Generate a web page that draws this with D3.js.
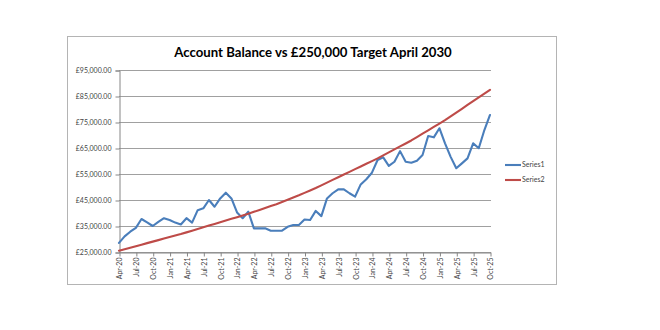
<!DOCTYPE html>
<html>
<head>
<meta charset="utf-8">
<script src="https://cdn.jsdelivr.net/npm/d3@7/dist/d3.min.js"></script>
<style>
  html, body { margin: 0; padding: 0; background: #fff; }
  svg { display: block; }
  text { font-family: Lato, "Open Sans", "Liberation Sans", sans-serif; }
</style>
</head>
<body>
<svg id="chart" width="660" height="330"></svg>
<script>
// Monthly periods, April 2020 to October 2025
const months = [
  "Apr-20","May-20","Jun-20","Jul-20","Aug-20","Sep-20","Oct-20","Nov-20","Dec-20",
  "Jan-21","Feb-21","Mar-21","Apr-21","May-21","Jun-21","Jul-21","Aug-21","Sep-21","Oct-21","Nov-21","Dec-21",
  "Jan-22","Feb-22","Mar-22","Apr-22","May-22","Jun-22","Jul-22","Aug-22","Sep-22","Oct-22","Nov-22","Dec-22",
  "Jan-23","Feb-23","Mar-23","Apr-23","May-23","Jun-23","Jul-23","Aug-23","Sep-23","Oct-23","Nov-23","Dec-23",
  "Jan-24","Feb-24","Mar-24","Apr-24","May-24","Jun-24","Jul-24","Aug-24","Sep-24","Oct-24","Nov-24","Dec-24",
  "Jan-25","Feb-25","Mar-25","Apr-25","May-25","Jun-25","Jul-25","Aug-25","Sep-25","Oct-25"
];

// Series1: actual account balance
const series1 = [
  28500, 31000, 32800, 34300, 37700, 36400, 35000, 36600, 38000,
  37300, 36300, 35600, 38000, 36300, 41100, 41800, 45000, 42400, 45600, 47800, 45600,
  40200, 38000, 40500, 34100, 34100, 34100, 33200, 33200, 33200, 34700, 35400, 35400,
  37500, 37300, 40800, 38800, 45600, 47600, 49100, 49100, 47600, 46300, 51000, 53000,
  55500, 60400, 61400, 58100, 59700, 63800, 59700, 59300, 60100, 62300, 69600, 69100,
  72600, 66800, 61600, 57200, 59100, 61000, 66800, 64900, 71900, 77700
];

// Series2: target path towards £250,000
const series2 = [
  25500, 26080, 26660, 27250, 27830, 28410, 28990, 29570, 30160,
  30740, 31320, 31900, 32550, 33200, 33850, 34500, 35150, 35800, 36450, 37100, 37750,
  38400, 39050, 39700, 40440, 41180, 41920, 42660, 43400, 44250, 45100, 45950, 46800,
  47730, 48670, 49600, 50640, 51680, 52720, 53760, 54800, 55830, 56870, 57900, 58930,
  59970, 61000, 62150, 63300, 64450, 65600, 66750, 67900, 69200, 70500, 71800, 73100,
  74400, 75700, 77160, 78630, 80090, 81550, 83010, 84480, 85940, 87400
];

const yTicks = [25000, 35000, 45000, 55000, 65000, 75000, 85000, 95000];
const seriesNames = ["Series1", "Series2"];
const seriesColors = ["#4a7ebb", "#be4b48"];

const svg = d3.select("#chart");

// Chart frame
svg.append("rect")
  .attr("x", 67.5).attr("y", 36.5)
  .attr("width", 489).attr("height", 248)
  .attr("fill", "#fff").attr("stroke", "#b4b4b4").attr("stroke-width", 1);

svg.append("text")
  .attr("x", 313).attr("y", 56.5)
  .attr("text-anchor", "middle")
  .attr("font-size", 13.2).attr("font-weight", "bold").attr("fill", "#000")
  .text("Account Balance vs £250,000 Target April 2030");

const x = d3.scalePoint().domain(months).range([119, 490]);
const y = d3.scaleLinear().domain([25000, 95000]).range([252, 70]);

// Horizontal gridlines
svg.append("g")
  .selectAll("line")
  .data(yTicks)
  .join("line")
  .attr("x1", 119).attr("x2", 491)
  .attr("y1", d => Math.round(y(d)) + 0.5).attr("y2", d => Math.round(y(d)) + 0.5)
  .attr("stroke", "#a0a0a0").attr("stroke-width", 1);

// Y axis
const fmt = d => "£" + d3.format(",.2f")(d);
const yAxis = svg.append("g")
  .attr("transform", "translate(119.5,0.5)")
  .call(d3.axisLeft(y).tickValues(yTicks).tickSize(4).tickPadding(4).tickFormat(fmt));
yAxis.select(".domain").attr("stroke", "#868686");
yAxis.selectAll(".tick line").attr("stroke", "#868686");
yAxis.selectAll("text").attr("font-size", 7).attr("fill", "#444")
  .style("font-family", "Lato, 'Open Sans', sans-serif");

// X axis, quarterly labels
const quarterly = months.filter((m, i) => i % 3 === 0);
const xAxis = svg.append("g")
  .attr("transform", "translate(0.5,252.5)")
  .call(d3.axisBottom(x).tickValues(quarterly).tickSize(4).tickSizeOuter(0));
xAxis.select(".domain").attr("stroke", "#868686");
xAxis.selectAll(".tick line").attr("stroke", "#868686");
xAxis.selectAll("text")
  .attr("font-size", 7).attr("fill", "#444")
  .style("font-family", "Lato, 'Open Sans', sans-serif")
  .attr("text-anchor", "end")
  .attr("transform", "rotate(-90)")
  .attr("x", -5).attr("y", 0).attr("dy", "0.35em");

// Series lines
const line = d3.line().x((d, i) => x(months[i])).y(d => y(d));
[series1, series2].forEach((s, k) => {
  svg.append("path")
    .datum(s)
    .attr("d", line)
    .attr("fill", "none")
    .attr("stroke", seriesColors[k])
    .attr("stroke-width", 2.1)
    .attr("stroke-linejoin", "round")
    .attr("stroke-linecap", "round");
});

// Legend
const legend = svg.append("g");
seriesNames.forEach((name, k) => {
  const ly = 165 + k * 15;
  legend.append("line")
    .attr("x1", 505).attr("x2", 521).attr("y1", ly).attr("y2", ly)
    .attr("stroke", seriesColors[k]).attr("stroke-width", 2.1);
  legend.append("text")
    .attr("x", 522).attr("y", ly).attr("dy", "0.35em")
    .attr("font-size", 7).attr("fill", "#444")
    .text(name);
});
</script>
</body>
</html>
